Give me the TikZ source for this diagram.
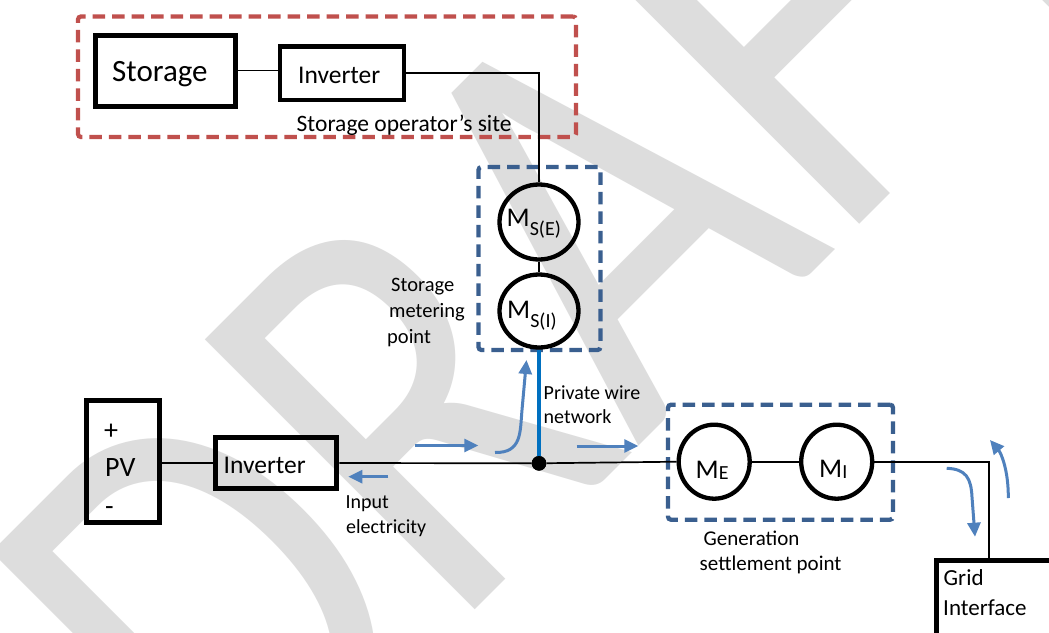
\documentclass[tikz,border=0pt]{standalone}
\usepackage{fontspec}
\setmainfont{Carlito}
\newfontfamily\wmfont[FakeStretch=0.8185]{Carlito}
\usetikzlibrary{arrows.meta,shapes.geometric}
\definecolor{siteRed}{HTML}{C0504D}
\definecolor{meterBlue}{HTML}{3A5F8F}
\definecolor{flowBlue}{HTML}{4F81BD}
\definecolor{wireBlue}{HTML}{0070C0}
\definecolor{wmGray}{HTML}{DDDDDD}
\newcommand{\fsz}[1]{\fontsize{#1}{#1}\selectfont}
\begin{document}
\begin{tikzpicture}[x=1pt,y=-1pt,
  box/.style={draw, rectangle, line width=4.5pt, inner sep=0pt},
  meter/.style={draw, ellipse, line width=4.3pt, inner sep=0pt},
  zone/.style={draw, rectangle, line width=4.3pt, dash pattern=on 12.5pt off 7pt, rounded corners=3pt, inner sep=0pt},
  wire/.style={line width=1.7pt},
  flow/.style={draw=flowBlue, line width=3pt, -{Triangle[length=14pt,width=13pt]}},
  lbl/.style={inner sep=0pt, anchor=base west}]
\path[use as bounding box] (0,0) rectangle (1049,632);
\clip (0,0) rectangle (1049,632);
\fill[white] (0,0) rectangle (1049,632);
% watermark
\node[anchor=base west, rotate=45, inner sep=0pt, text=wmGray, font=\wmfont\fsz{595}] (wmark) at (238.6,846) {DRAFT};
% zones
\node[zone, draw=siteRed, minimum width=498pt, minimum height=120.5pt] (site) at (327,76.75) {};
\node[zone, draw=meterBlue, minimum width=122pt, minimum height=183pt] (smp) at (539.5,258.5) {};
\node[zone, draw=meterBlue, minimum width=225pt, minimum height=115pt] (gsp) at (780.5,462.2) {};
% boxes
\node[box, line width=5pt, minimum width=140pt, minimum height=71pt] (storage) at (165.5,70.5) {};
\node[box, minimum width=124pt, minimum height=53.5pt] (invtop) at (342,73) {};
\node[box, line width=4.7pt, minimum width=73pt, minimum height=122pt] (pv) at (122.8,461.7) {};
\node[box, line width=5pt, minimum width=121pt, minimum height=51pt] (invbot) at (276.3,463) {};
\node[box, line width=5pt, anchor=north west, minimum width=160pt, minimum height=120pt] (grid) at (933.5,558.2) {};
% meters
\node[meter, minimum width=79pt, minimum height=75pt] (mse) at (539,222) {};
\node[meter, minimum width=79pt, minimum height=73pt] (msi) at (539,311) {};
\node[meter, minimum width=71pt, minimum height=74pt] (me) at (714.2,461.7) {};
\node[meter, minimum width=71pt, minimum height=74pt] (mi) at (836.7,461.7) {};
% connectors
\draw[wire] (storage.east) -- (storage.east -| invtop.west);
\draw[wire] (invtop.east) -| (mse.north);
\draw[wire] (mse.south) -- (msi.north);
\node[circle, fill, inner sep=0pt, minimum size=14.6pt] (jn) at (539,463.3) {};
\draw[line width=3.5pt, wireBlue] (msi.south) -- (jn.center);
\node[circle, fill, inner sep=0pt, minimum size=14.6pt] at (jn) {};
\draw[wire] (invbot.west -| pv.east) -- (invbot.west);
\draw[wire] (invbot.east) -- (jn) -- (me.west);
\draw[wire] (me.east) -- (mi.west);
\coordinate (gtop) at (989.3,558.2);
\draw[wire] (mi.east) -| (gtop);
% flow arrows
\coordinate (inS) at (388.3,476.7); \coordinate (inE) at (348.3,476.7);
\draw[flow, line width=2.6pt] (inS) -- (inE);
\coordinate (a1S) at (415,445.5); \coordinate (a1E) at (478.3,445.5);
\draw[flow] (a1S) -- (a1E);
\coordinate (a2S) at (495,452.5); \coordinate (a2E) at (526.5,360);
\draw[flow] (a2S) .. controls (522,453) and (520,432) .. (522,410) -- (a2E);
\coordinate (a3S) at (576.7,446); \coordinate (a3E) at (638.3,446);
\draw[flow] (a3S) -- (a3E);
\coordinate (a4S) at (946.7,468.3); \coordinate (a4E) at (975,536.7);
\draw[flow] (a4S) .. controls (966,469) and (971,478) .. (972,497) -- (a4E);
\coordinate (a5S) at (1008.3,498); \coordinate (a5E) at (990,440);
\draw[flow] (a5S) .. controls (1008.5,470) and (1001,453) .. (a5E);
% texts
\node[lbl, font=\fsz{31}] (tstorage) at (112,81.5) {Storage};
\node[lbl, font=\fsz{25.5}] (tinvtop) at (298,83.5) {Inverter};
\node[lbl, font=\fsz{23.5}] (tsite) at (296.5,131.7) {Storage operator’s site};
\node[lbl, font=\fsz{20.5}] (tsmp1) at (391,291) {Storage};
\node[lbl, font=\fsz{20.5}] (tsmp2) at (389,317) {metering};
\node[lbl, font=\fsz{20.5}] (tsmp3) at (387,343) {point};
\node[lbl] (tmse) at (506.5,226) {\fsz{27}M\raisebox{-9.5pt}{\fsz{20}S(E)}};
\node[lbl] (tmsi) at (507,318) {\fsz{27}M\raisebox{-9.5pt}{\fsz{20}S(I)}};
\node[lbl] (tme) at (695.5,478.3) {\fsz{27}M\raisebox{-1.5pt}{\fsz{20}E}};
\node[lbl] (tmi) at (819,477) {\fsz{27}M\raisebox{-1pt}{\fsz{20}I}};
\node[lbl, font=\fsz{28}] (tplus) at (104,439) {+};
\node[lbl, font=\fsz{28}] (tpv) at (105,476.7) {PV};
\node[lbl, font=\fsz{28}] (tminus) at (105,515.3) {-};
\node[lbl, font=\fsz{25.5}] (tinvbot) at (223.5,473.3) {Inverter};
\node[lbl, font=\fsz{20}] (tin1) at (345.5,508.3) {Input};
\node[lbl, font=\fsz{20}] (tin2) at (346,533.3) {electricity};
\node[lbl, font=\fsz{20}] (tpw1) at (543.5,399.3) {Private wire};
\node[lbl, font=\fsz{20}] (tpw2) at (543.5,423.3) {network};
\node[lbl, font=\fsz{21}] (tgen1) at (703.5,545) {Generation};
\node[lbl, font=\fsz{21}] (tgen2) at (699.5,570) {settlement point};
\node[lbl, font=\fsz{23}] (tgrid1) at (943.5,585) {Grid};
\node[lbl, font=\fsz{23}] (tgrid2) at (943,615) {Interface};
\end{tikzpicture}
\end{document}
